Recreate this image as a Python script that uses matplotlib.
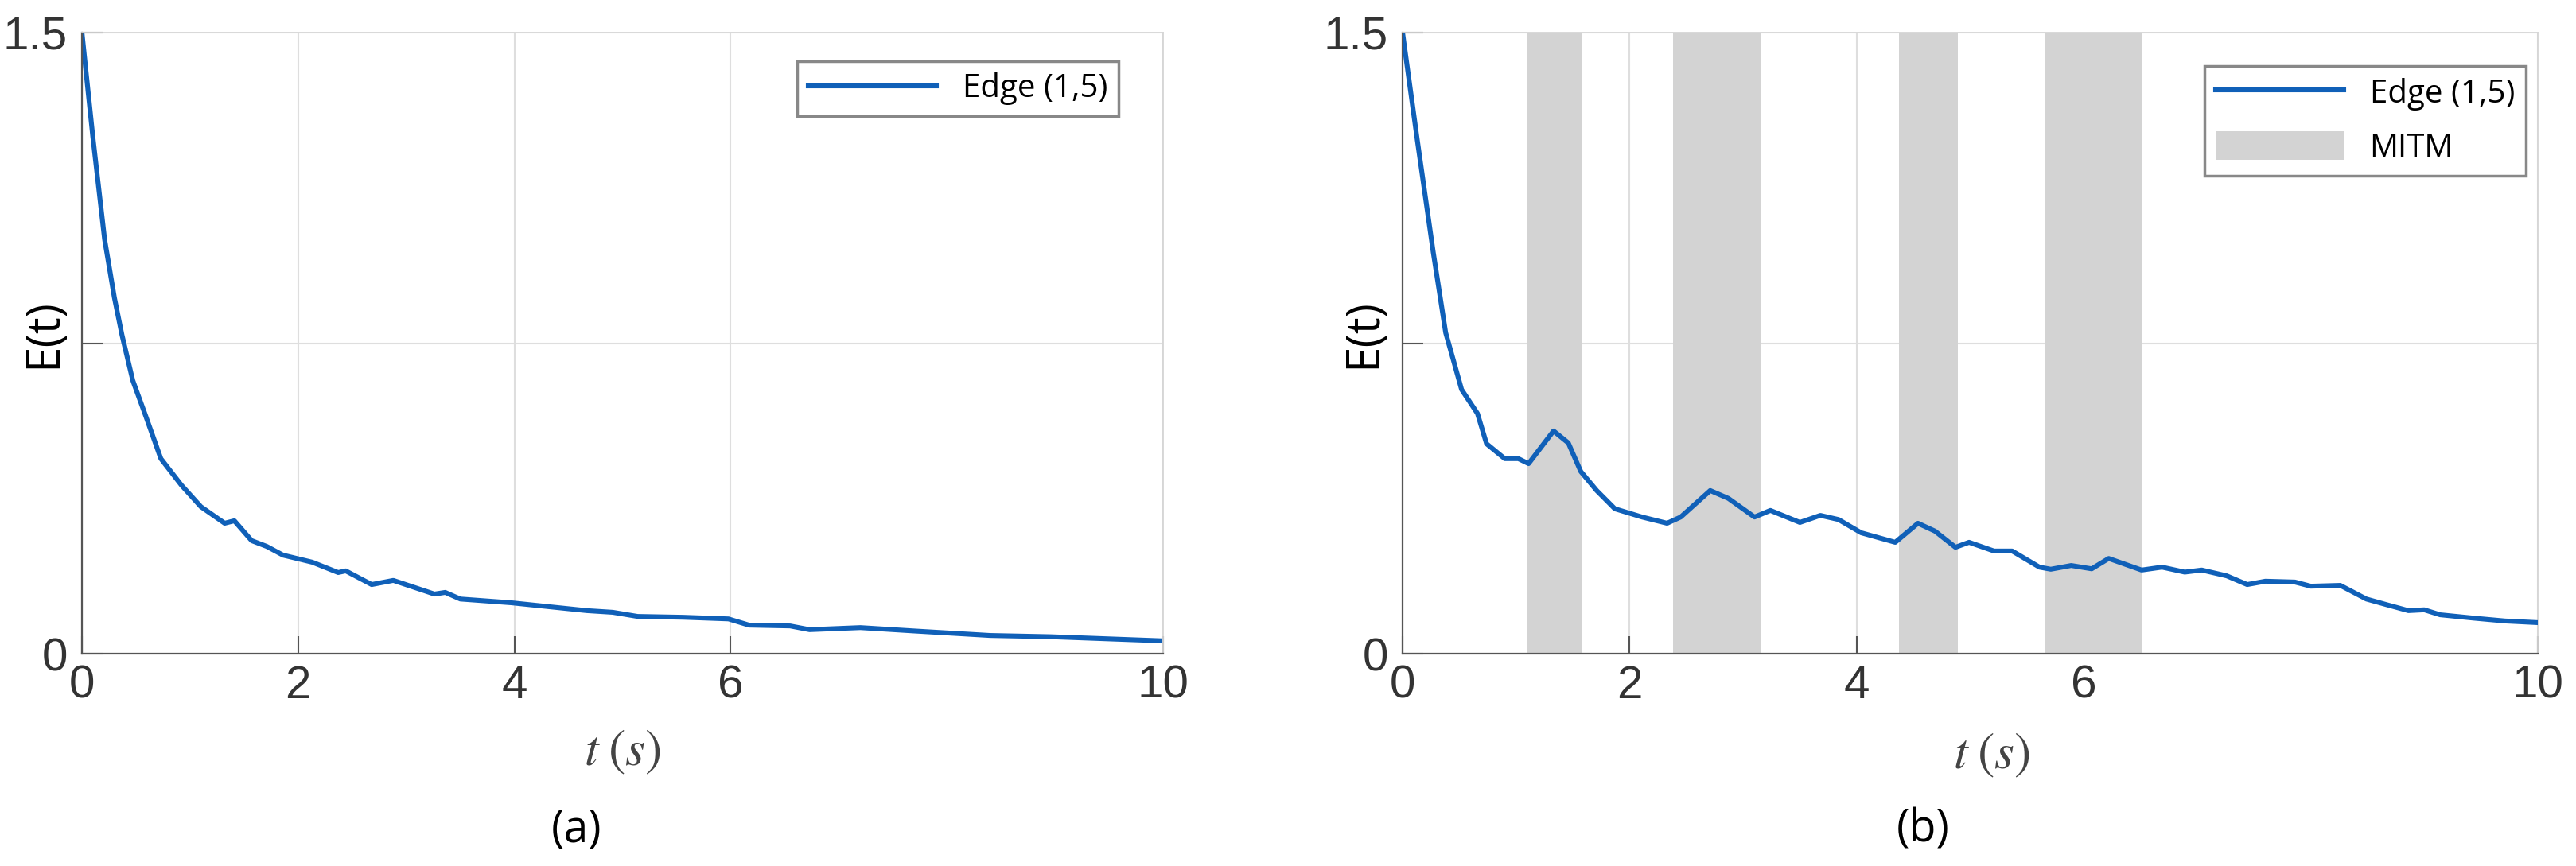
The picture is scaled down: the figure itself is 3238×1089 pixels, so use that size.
import matplotlib
matplotlib.use("Agg")
import matplotlib.pyplot as plt


# ==================================================
# Data
# ==================================================

# (a) energy on edge (1,5), no attack
t_a = [0, 0.1, 0.21, 0.30, 0.37, 0.47, 0.59, 0.73, 0.92, 1.10, 1.32, 1.41,
       1.57, 1.71, 1.86, 2.13, 2.37, 2.44, 2.68, 2.88, 3.26, 3.36, 3.50,
       3.97, 4.67, 4.91, 5.14, 5.56, 5.98, 6.17, 6.55, 6.73, 7.20, 7.69,
       8.40, 8.96, 10.0]
e_a = [1.5, 1.25, 1.0, 0.86, 0.77, 0.66, 0.574, 0.471, 0.407, 0.355,
       0.315, 0.321, 0.273, 0.259, 0.238, 0.221, 0.196, 0.200, 0.167, 0.177,
       0.144, 0.148, 0.132, 0.123, 0.104, 0.100, 0.090, 0.088, 0.084, 0.069,
       0.067, 0.058, 0.063, 0.055, 0.044, 0.041, 0.031]

# (b) energy on edge (1,5) with MITM attack windows
t_b = [0, 0.13, 0.27, 0.38, 0.52, 0.66, 0.74, 0.90, 1.02, 1.11, 1.33, 1.46,
       1.57, 1.71, 1.87, 2.11, 2.33, 2.45, 2.71, 2.87, 3.10, 3.24, 3.50,
       3.68, 3.84, 4.04, 4.34, 4.54, 4.69, 4.87, 4.99, 5.21, 5.37, 5.61,
       5.71, 5.89, 6.07, 6.22, 6.51, 6.69, 6.89, 7.04, 7.26, 7.44, 7.60,
       7.86, 8.00, 8.26, 8.49, 8.66, 8.86, 9.00, 9.14, 9.43, 9.71, 10.0]
e_b = [1.5, 1.24, 0.97, 0.775, 0.638, 0.580, 0.507, 0.471, 0.471, 0.459,
       0.538, 0.509, 0.440, 0.394, 0.350, 0.330, 0.315, 0.330, 0.394, 0.375,
       0.330, 0.346, 0.317, 0.334, 0.324, 0.292, 0.269, 0.315, 0.296, 0.257,
       0.269, 0.248, 0.248, 0.209, 0.204, 0.213, 0.205, 0.230, 0.202, 0.209,
       0.197, 0.202, 0.188, 0.167, 0.175, 0.173, 0.163, 0.165, 0.132, 0.119,
       0.104, 0.106, 0.094, 0.086, 0.079, 0.075]

mitm_start = [1.09, 2.38, 4.37, 5.66]
mitm_end = [1.58, 3.15, 4.89, 6.51]

x_ticks = [0, 2, 4, 6, 10]
y_ticks = [0, 0.75, 1.5]
y_tick_labels = ["0", "", "1.5"]

LINE_BLUE = "#1060b8"
MITM_GRAY = "#d3d3d3"

plt.rcParams["font.family"] = ["Liberation Sans", "DejaVu Sans"]
plt.rcParams["mathtext.fontset"] = "stix"

LEGEND_FONT = {"family": "Open Sans", "size": 29}


# ==================================================
# Common axes style
# ==================================================

def style_axes(ax):

    ax.set_xlim(0, 10)
    ax.set_ylim(0, 1.5)

    ax.set_xticks(x_ticks)
    ax.set_xticklabels([str(v) for v in x_ticks])
    ax.set_yticks(y_ticks)
    ax.set_yticklabels(y_tick_labels)

    ax.grid(True, color="#dedede", linewidth=1.5)
    ax.set_axisbelow(True)

    for side in ["left", "bottom"]:
        ax.spines[side].set_color("#555555")
        ax.spines[side].set_linewidth(1.6)
    for side in ["top", "right"]:
        ax.spines[side].set_color("#d6d6d6")
        ax.spines[side].set_linewidth(1.3)

    ax.tick_params(
        axis="both",
        direction="in",
        width=1.5,
        color="#555555",
        labelsize=42,
        labelcolor="#333333"
    )
    ax.tick_params(axis="x", length=16, pad=10)
    ax.tick_params(axis="y", length=19, pad=13)

    ax.set_ylabel("E(t)", fontsize=42, family="Open Sans", color="black")
    ax.yaxis.set_label_coords(-0.014, 0.516)


def style_legend(leg):

    leg.get_frame().set_linewidth(2.5)
    leg.get_frame().set_edgecolor("#888888")


fig = plt.figure(figsize=(32.38, 10.89), dpi=100)

# ==================================================
# (a)
# ==================================================

ax_a = fig.add_axes([103 / 3238, 267 / 1089, 1359 / 3238, 781 / 1089])

ax_a.plot(t_a, e_a, color=LINE_BLUE, linewidth=4.4, label="Edge (1,5)")

style_axes(ax_a)

ax_a.set_xlabel(r"$t\;(s)$", fontsize=46, color="#444444")
ax_a.xaxis.set_label_coords(0.5, -0.12)

leg_a = ax_a.legend(
    loc="upper right",
    bbox_to_anchor=(0.9588, 0.954),
    borderaxespad=0,
    prop=LEGEND_FONT,
    handlelength=4.0,
    handletextpad=0.8,
    borderpad=0.35,
    fancybox=False,
    framealpha=1
)
style_legend(leg_a)

# ==================================================
# (b)
# ==================================================

ax_b = fig.add_axes([1763 / 3238, 267 / 1089, 1427 / 3238, 781 / 1089])

for i, (s, e) in enumerate(zip(mitm_start, mitm_end)):
    ax_b.axvspan(
        s, e,
        facecolor=MITM_GRAY,
        edgecolor="none",
        zorder=1,
        label="MITM" if i == 0 else "_nolegend_"
    )

ax_b.plot(t_b, e_b, color=LINE_BLUE, linewidth=4.4, label="Edge (1,5)",
          zorder=3)

style_axes(ax_b)

ax_b.set_xlabel(r"$t\;(s)$", fontsize=46, color="#444444")
ax_b.xaxis.set_label_coords(0.519, -0.125)

handles, labels = ax_b.get_legend_handles_labels()
order = [labels.index("Edge (1,5)"), labels.index("MITM")]

leg_b = ax_b.legend(
    [handles[i] for i in order],
    [labels[i] for i in order],
    loc="upper right",
    bbox_to_anchor=(0.9895, 0.946),
    borderaxespad=0,
    prop=LEGEND_FONT,
    handlelength=4.0,
    handleheight=1.0,
    handletextpad=0.8,
    labelspacing=0.65,
    borderpad=0.35,
    fancybox=False,
    framealpha=1
)
style_legend(leg_b)

# ==================================================
# Panel captions
# ==================================================

fig.text(0.2239, 0.0413, "(a)", fontsize=40, family="Open Sans",
         ha="center", va="center")
fig.text(0.7465, 0.0413, "(b)", fontsize=40, family="Open Sans",
         ha="center", va="center")

fig.savefig("out.png", dpi=100)
plt.close(fig)
